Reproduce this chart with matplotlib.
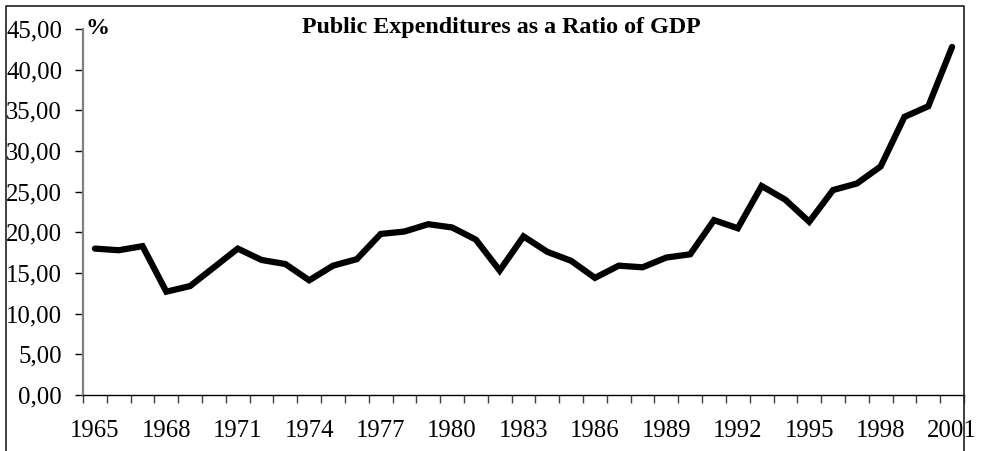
import numpy as np
import matplotlib.pyplot as plt
from matplotlib.lines import Line2D
from matplotlib.ticker import FuncFormatter, FixedLocator

years = list(range(1965, 2002))
ratio = [18.0, 17.8, 18.3, 12.7, 13.4, 15.7, 18.0, 16.6, 16.1, 14.1,
         15.9, 16.7, 19.8, 20.1, 21.0, 20.6, 19.1, 15.3, 19.5, 17.6,
         16.5, 14.4, 15.9, 15.7, 16.9, 17.3, 21.5, 20.5, 25.7, 24.0,
         21.3, 25.2, 26.0, 28.1, 34.2, 35.5, 42.8]
label_years = years[::3]

plt.rcParams['font.family'] = ['Liberation Serif', 'DejaVu Serif']

W, H = 984, 451
fig = plt.figure(figsize=(W / 100, H / 100), dpi=100)
ax = fig.add_axes([83 / W, 1 - 395 / H, (964 - 83) / W, (395 - 29) / H])

x = np.arange(len(years))
ax.plot(x, ratio, color='black', lw=4.5, solid_joinstyle='miter', solid_capstyle='round', clip_on=False)

ax.set_xlim(-0.5, len(years) - 0.5)
ax.set_ylim(0, 45)
ax.set_yticks(np.arange(0, 46, 5))
ax.yaxis.set_major_formatter(FuncFormatter(lambda v, p: f"{v:.2f}".replace('.', ',')))

# tick marks between categories, labels every 3 years
ax.xaxis.set_major_locator(FixedLocator([years.index(y) for y in label_years]))
ax.set_xticklabels([str(y) for y in label_years])
ax.xaxis.set_minor_locator(FixedLocator(np.arange(-0.5, len(years), 1)))
ax.tick_params(axis='x', which='major', length=0, pad=18, labelsize=17.8)
ax.tick_params(axis='x', which='minor', length=6, width=1, color='#404040', direction='out')
ax.tick_params(axis='y', length=6, width=1, color='black', direction='out', pad=9, labelsize=17.8)

for s in ['top', 'right']:
    ax.spines[s].set_visible(False)
ax.spines['left'].set_color('#808080')
ax.spines['left'].set_linewidth(1.6)
ax.spines['bottom'].set_color('black')
ax.spines['bottom'].set_linewidth(1.0)

fig.text(501 / W, 1 - 28 / H, 'Public Expenditures as a Ratio of GDP', ha='center', va='center',
         fontsize=17.3, fontweight='bold')
fig.text(85 / W, 1 - 28 / H, '%', ha='left', va='center', fontsize=17.3, fontweight='bold')

# outer chart border (bottom edge cut off)
bx = [6 / W, 6 / W, 964 / W, 964 / W]
by = [-0.05, 1 - 6 / H, 1 - 6 / H, -0.05]
fig.add_artist(Line2D(bx, by, color='#202020', lw=1.2))

fig.savefig('out.png', dpi=100)
